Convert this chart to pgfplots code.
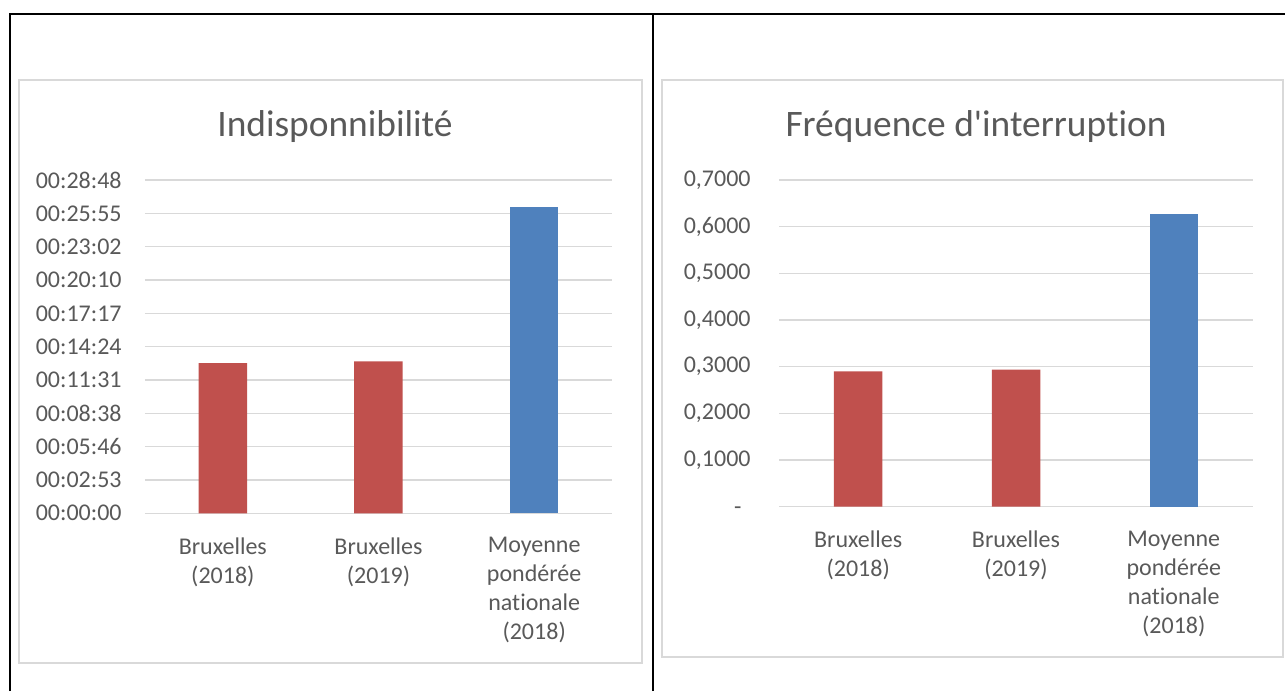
\documentclass[border=0pt]{standalone}
\usepackage{fontspec}
\setmainfont{Carlito}[Ligatures={NoCommon}]
\usepackage{pgfplots}
\pgfplotsset{compat=1.18}

\definecolor{barred}{HTML}{C0504D}
\definecolor{barblue}{HTML}{4F81BD}
\definecolor{gridgray}{HTML}{D9D9D9}
\definecolor{txtgray}{HTML}{595959}

\pgfplotsset{
  excelbars/.style={
    scale only axis,
    anchor=south west,
    xmin=-0.5, xmax=2.5,
    xtick={0,1,2},
    axis line style={draw=none},
    major tick style={draw=none},
    ymajorgrids,
    grid style={gridgray, line width=0.75pt},
    tick label style={font=\fontsize{12}{14.5}\selectfont, text=txtgray},
    xticklabel style={align=center, anchor=north, yshift=-8.5pt},
    xticklabels={{Bruxelles\\(2018)},{Bruxelles\\(2019)},{Moyenne\\pondérée\\nationale\\(2018)}},
  },
  redbar/.style={ybar, bar shift=0pt, bar width=24.25pt, fill=barred, draw=none},
  bluebar/.style={ybar, bar shift=0pt, bar width=24.25pt, fill=barblue, draw=none},
}

\begin{document}
\begin{tikzpicture}
\useasboundingbox (0,0) rectangle (642.5pt,345.5pt);

% table rules
\draw[line width=1pt] (5pt,0) -- (5pt,338.5pt) -- (642.5pt,338.5pt);
\draw[line width=1pt] (326.5pt,0) -- (326.5pt,338.5pt);

% chart frames
\draw[gridgray, line width=0.75pt] (9.5pt,14pt) rectangle (321pt,305.5pt);
\draw[gridgray, line width=0.75pt] (331pt,17pt) rectangle (641.5pt,305.5pt);

% titles
\node[anchor=base, text=txtgray, font=\fontsize{18.7}{22}\selectfont, inner sep=0pt]
  at (167.5pt,277.15pt) {Indisponnibilité};
\node[anchor=base, text=txtgray, font=\fontsize{18.7}{22}\selectfont, inner sep=0pt]
  at (488pt,277.15pt) {Fréquence d\textquotesingle interruption};

% unavailability, in seconds
\begin{axis}[excelbars,
  at={(72.5pt,88.85pt)},
  width=233.5pt, height=166.65pt,
  ymin=0, ymax=1728,
  ytick={0,172.8,345.6,518.4,691.2,864,1036.8,1209.6,1382.4,1555.2,1728},
  yticklabels={00:00:00,00:02:53,00:05:46,00:08:38,00:11:31,00:14:24,00:17:17,00:20:10,00:23:02,00:25:55,00:28:48},
  yticklabel style={anchor=east, inner sep=0pt, xshift=-11.5pt},
]
\addplot[redbar] coordinates {(0,778) (1,788)};
\addplot[bluebar] coordinates {(2,1588)};
\end{axis}

% interruption frequency
\begin{axis}[excelbars,
  at={(389.65pt,92.15pt)},
  width=236.7pt, height=163.35pt,
  ymin=0, ymax=0.7,
  ytick={0,0.1,0.2,0.3,0.4,0.5,0.6,0.7},
  yticklabels={{\vphantom{0}-\kern4.6pt},{0,1000},{0,2000},{0,3000},{0,4000},{0,5000},{0,6000},{0,7000}},
  yticklabel style={anchor=east, inner sep=0pt, xshift=-14.15pt},
]
\addplot[redbar] coordinates {(0,0.290) (1,0.2935)};
\addplot[bluebar] coordinates {(2,0.627)};
\end{axis}
\end{tikzpicture}
\end{document}
